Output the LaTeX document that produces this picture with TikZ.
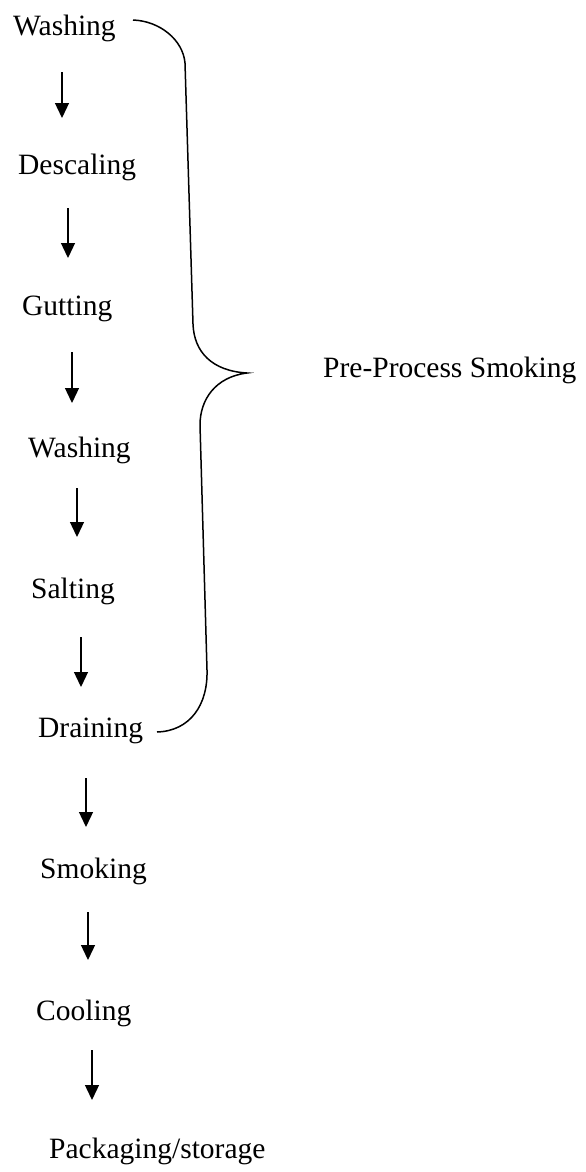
\documentclass[tikz,border=0pt]{standalone}
\usepackage{fontspec}
\setmainfont{Liberation Serif}
\usetikzlibrary{arrows.meta}
\begin{document}
\begin{tikzpicture}[x=1pt,y=-1pt,
  steptext/.style={anchor=base west,inner sep=0pt,font=\fontsize{29.5}{35}\selectfont},
  flowarrow/.style={line width=1.3pt,-{Triangle[width=14pt,length=15pt]}},
  bracepath/.style={line width=1.5pt}]
\useasboundingbox (0,0) rectangle (586,1172);
\fill[white] (0,0) rectangle (586,1172);
% steps
\node[steptext] (s1) at (13,36) {Washing};
\node[steptext] (s2) at (18,174) {Descaling};
\node[steptext] (s3) at (22,315) {Gutting};
\node[steptext] (s4) at (28,457) {Washing};
\node[steptext] (s5) at (31,598) {Salting};
\node[steptext] (s6) at (38,737) {Draining};
\node[steptext] (s7) at (40,878) {Smoking};
\node[steptext] (s8) at (36,1020) {Cooling};
\node[steptext] (s9) at (49,1158) {Packaging/storage};
\node[steptext] (pre) at (323,377) {Pre-Process Smoking};
% arrows
\coordinate (a1s) at (62,72);   \coordinate (a1e) at (62,118);
\coordinate (a2s) at (68,208);  \coordinate (a2e) at (68,258);
\coordinate (a3s) at (72,352);  \coordinate (a3e) at (72,403);
\coordinate (a4s) at (77,488);  \coordinate (a4e) at (77,537);
\coordinate (a5s) at (81,637);  \coordinate (a5e) at (81,687);
\coordinate (a6s) at (86,778);  \coordinate (a6e) at (86,827);
\coordinate (a7s) at (88,912);  \coordinate (a7e) at (88,960);
\coordinate (a8s) at (92,1050); \coordinate (a8e) at (92,1100);
\foreach \i in {1,...,8} {\draw[flowarrow] (a\i s) -- (a\i e);}
% brace
\coordinate (btop) at (133,20);
\coordinate (bu1) at (185,63);
\coordinate (bu2) at (193,324);
\coordinate (btip) at (247,373);
\coordinate (bl1) at (200,425);
\coordinate (bl2) at (207,670);
\coordinate (bbot) at (157,732);
\draw[bracepath] (btop) .. controls (160,21) and (183,40) .. (bu1)
  -- (bu2) .. controls (194,352) and (212,371) .. (btip)
  .. controls (215,377) and (200,400) .. (bl1)
  -- (bl2) .. controls (208,705) and (190,731) .. (bbot);
\end{tikzpicture}
\end{document}
